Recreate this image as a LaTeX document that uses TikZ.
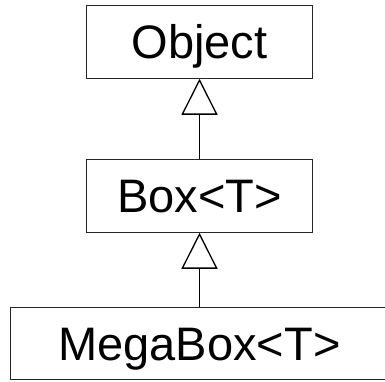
\documentclass[tikz,border=0pt]{standalone}
\usepackage{fontspec}
\setmainfont{Liberation Sans}
\usetikzlibrary{arrows.meta}
\begin{document}
\begin{tikzpicture}[x=1pt,y=1pt,
  cls/.style={draw=black!85, line width=0.9pt, inner sep=0pt, font=\fontsize{47}{50}\selectfont,
    text height=33.6pt, text depth=0pt, anchor=center},
  inherit/.style={line width=0.9pt, -{Triangle[open,length=36pt,width=36pt,line width=1.3pt]}}]
\useasboundingbox (0,0) rectangle (385,-381);
\begin{scope}
\clip (0,0) rectangle (385,-381);
\node[cls, minimum width=226.4pt, minimum height=73pt] (object) at (199.5,-41.8) {Object};
\node[cls, minimum width=226.4pt, minimum height=73pt] (box) at (199.5,-195.8) {Box<T>};
\node[cls, minimum width=377.6pt, minimum height=71.6pt] (mega) at (199.5,-343.5) {MegaBox<T>};
\draw[inherit] (box.north) -- (object.south);
\draw[inherit] (mega.north) -- (box.south);
\end{scope}
\end{tikzpicture}
\end{document}
